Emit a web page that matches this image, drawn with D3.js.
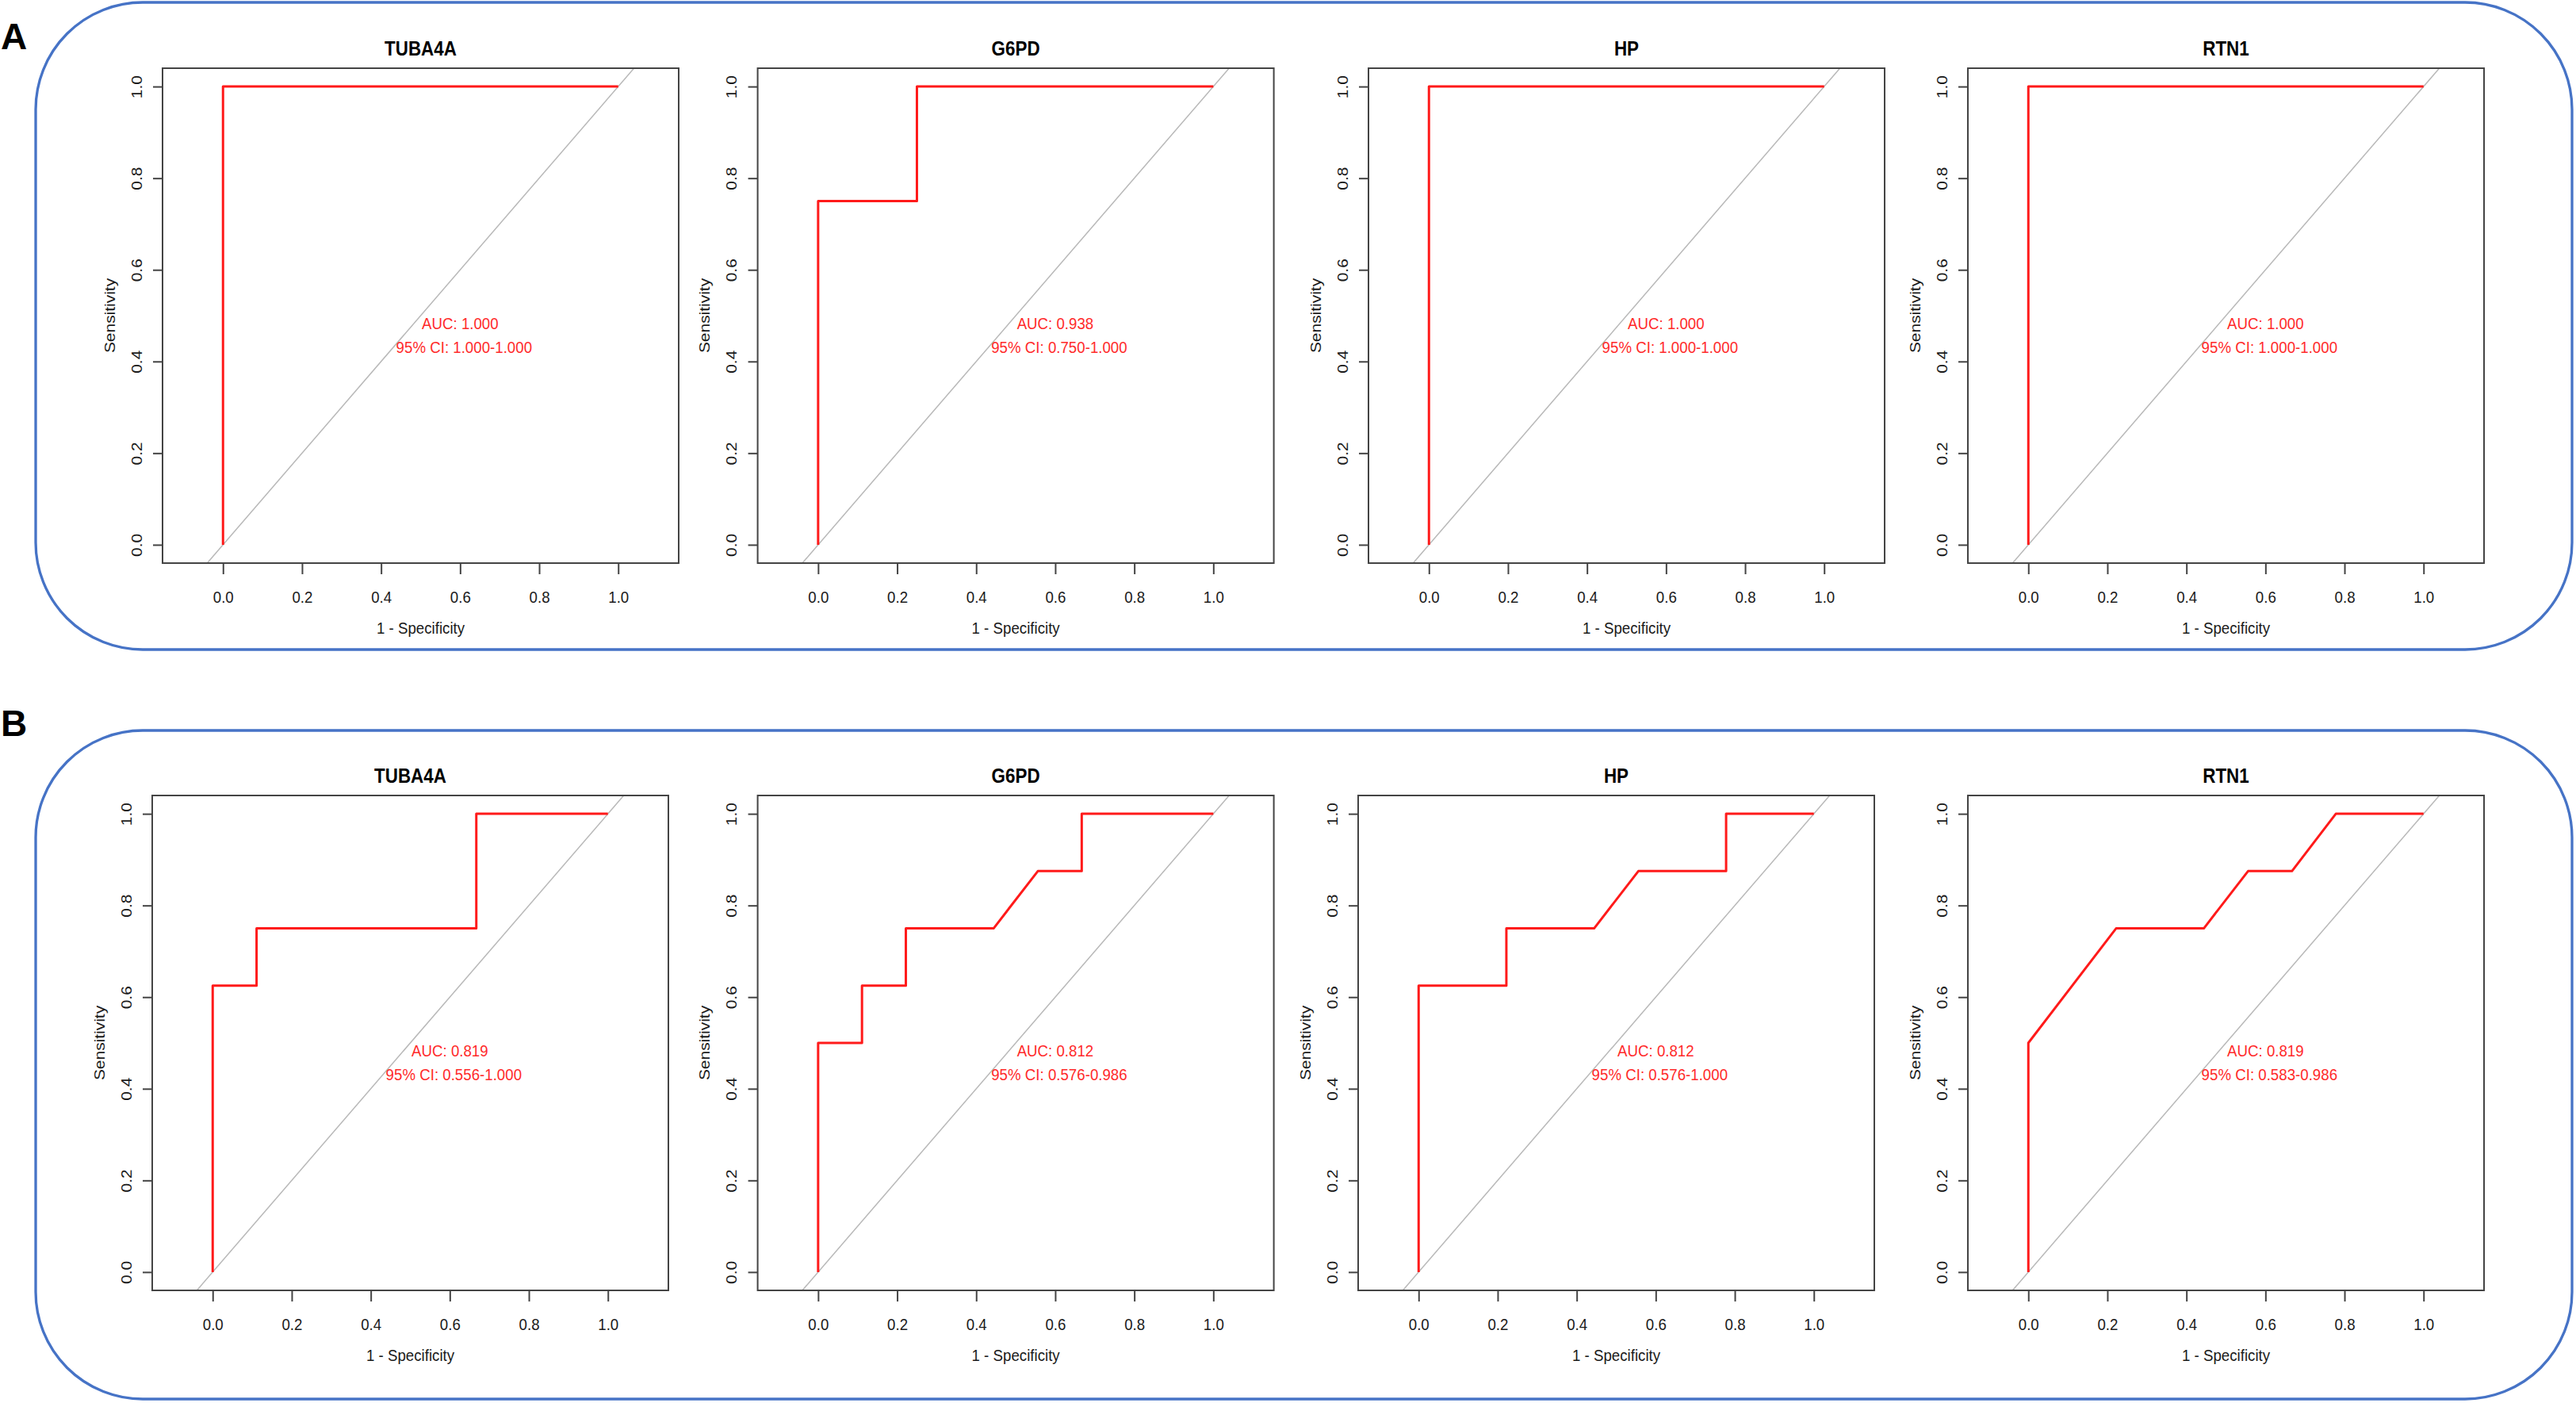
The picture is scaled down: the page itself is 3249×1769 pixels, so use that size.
<!DOCTYPE html>
<html>
<head>
<meta charset="utf-8">
<title>ROC curves</title>
<script src="https://cdn.jsdelivr.net/npm/d3@7"></script>
<style>
  body { margin: 0; background: #fff; }
  svg { display: block; font-family: "Liberation Sans", Arial, Helvetica, sans-serif; }
  .frame { fill: none; stroke: #4673c6; stroke-width: 3.3; }
  .plot-box { fill: none; stroke: #444; stroke-width: 2; }
  .diag { stroke: #b8b8b8; stroke-width: 1.5; }
  .roc { fill: none; stroke: #ff1a1a; stroke-width: 3; stroke-linejoin: round; }
  .tick line { stroke: #444; stroke-width: 2; }
  .auc { fill: #ff2a2a; font-size: 18.7px; text-anchor: middle; }
  .lab { fill: #1a1a1a; font-size: 18.7px; text-anchor: middle; }
  .main { fill: #000; font-size: 22.4px; font-weight: bold; text-anchor: middle; }
  .panel-letter { fill: #000; font-size: 46px; font-weight: bold; }
</style>
</head>
<body>
<svg width="3249" height="1769"></svg>
<script>
// genes, one plot each, in both cohorts
var genes = ["TUBA4A", "G6PD", "HP", "RTN1"];
var cohorts = ["A", "B"];

// ROC points as [1 - specificity, sensitivity]
var rocA_TUBA4A = [[0, 0], [0, 1], [1, 1]];
var rocA_G6PD = [[0, 0], [0, 0.75], [0.25, 0.75], [0.25, 1], [1, 1]];
var rocA_HP = [[0, 0], [0, 1], [1, 1]];
var rocA_RTN1 = [[0, 0], [0, 1], [1, 1]];

var rocB_TUBA4A = [[0, 0], [0, 0.625], [0.111, 0.625], [0.111, 0.75], [0.667, 0.75], [0.667, 1], [1, 1]];
var rocB_G6PD = [[0, 0], [0, 0.5], [0.111, 0.5], [0.111, 0.625], [0.222, 0.625], [0.222, 0.75],
  [0.444, 0.75], [0.556, 0.875], [0.667, 0.875], [0.667, 1], [1, 1]];
var rocB_HP = [[0, 0], [0, 0.625], [0.222, 0.625], [0.222, 0.75], [0.444, 0.75], [0.556, 0.875],
  [0.778, 0.875], [0.778, 1], [1, 1]];
var rocB_RTN1 = [[0, 0], [0, 0.5], [0.222, 0.75], [0.444, 0.75], [0.556, 0.875], [0.667, 0.875],
  [0.778, 1], [1, 1]];

var aucA = ["1.000", "0.938", "1.000", "1.000"];
var ciA = ["1.000-1.000", "0.750-1.000", "1.000-1.000", "1.000-1.000"];
var aucB = ["0.819", "0.812", "0.812", "0.819"];
var ciB = ["0.556-1.000", "0.576-0.986", "0.576-1.000", "0.583-0.986"];

var ticks = [0, 0.2, 0.4, 0.6, 0.8, 1.0];

// layout of the two framed rows
var W = 651, H = 624;
var STRETCH = 1.12; // the source bitmap is stretched vertically, text too
var rows = [
  { curves: [rocA_TUBA4A, rocA_G6PD, rocA_HP, rocA_RTN1], auc: aucA, ci: ciA,
    lefts: [205, 955.6, 1726, 2482], top: 86, frameY: 3, frameH: 816, letterY: 62 },
  { curves: [rocB_TUBA4A, rocB_G6PD, rocB_HP, rocB_RTN1], auc: aucB, ci: ciB,
    lefts: [192, 955.6, 1713, 2482], top: 1003, frameY: 921, frameH: 843, letterY: 928 }
];

var svg = d3.select("svg");
var defs = svg.append("defs");

var x = d3.scaleLinear().domain([-0.153, 1.153]).range([0, W]);
var y = d3.scaleLinear().domain([-0.04, 1.04]).range([H, 0]);
var line = d3.line()
  .x(function(d) { return x(d[0]); })
  .y(function(d) { return y(d[1]); });

defs.append("clipPath").attr("id", "plot-clip")
  .append("rect").attr("width", W).attr("height", H);

// put a text centred (vertically) on cx, cy; optionally turned to read upwards
function place(sel, cx, cy, turned) {
  sel.attr("x", null).attr("y", null)
    .attr("dy", "0.36em")
    .attr("transform", "translate(" + cx + "," + cy + ") scale(1," + STRETCH + ")" +
      (turned ? " rotate(-90)" : ""));
  return sel;
}

rows.forEach(function(row, r) {
  svg.append("rect")
    .attr("class", "frame")
    .attr("x", 45).attr("y", row.frameY)
    .attr("width", 3199).attr("height", row.frameH)
    .attr("rx", 135).attr("ry", 135);

  svg.append("text")
    .attr("class", "panel-letter")
    .attr("x", 1).attr("y", row.letterY)
    .text(cohorts[r]);

  genes.forEach(function(gene, i) {
    var g = svg.append("g")
      .attr("transform", "translate(" + row.lefts[i] + "," + row.top + ")");

    g.append("line")
      .attr("class", "diag")
      .attr("clip-path", "url(#plot-clip)")
      .attr("x1", x(-0.2)).attr("y1", y(-0.2))
      .attr("x2", x(1.2)).attr("y2", y(1.2));

    g.append("path")
      .attr("class", "roc")
      .attr("d", line(row.curves[i]));

    g.append("rect")
      .attr("class", "plot-box")
      .attr("width", W).attr("height", H);

    var xAxis = g.append("g")
      .attr("transform", "translate(0," + H + ")")
      .call(d3.axisBottom(x).tickValues(ticks).tickFormat(d3.format(".1f")).tickSize(14));
    xAxis.select(".domain").remove();
    place(xAxis.selectAll(".tick text"), 0, 42, false);

    var yAxis = g.append("g")
      .call(d3.axisLeft(y).tickValues(ticks).tickFormat(d3.format(".1f")).tickSize(12));
    yAxis.select(".domain").remove();
    place(yAxis.selectAll(".tick text"), -33, 0, true).attr("text-anchor", "middle");

    g.selectAll(".tick text")
      .attr("font-family", null).attr("font-size", null)
      .attr("fill", null).attr("class", "lab");

    place(g.append("text").attr("class", "main").text(gene), W / 2, -25, false);

    place(g.append("text").attr("class", "lab").text("1 - Specificity"), W / 2, H + 81, false);

    place(g.append("text").attr("class", "lab").text("Sensitivity"), -67, H / 2, true);

    place(g.append("text").attr("class", "auc").text("AUC: " + row.auc[i]),
      x(0.6), y(0.483), false);

    place(g.append("text").attr("class", "auc").text("95% CI: " + row.ci[i]),
      x(0.61), y(0.431), false);
  });
});
</script>
</body>
</html>
